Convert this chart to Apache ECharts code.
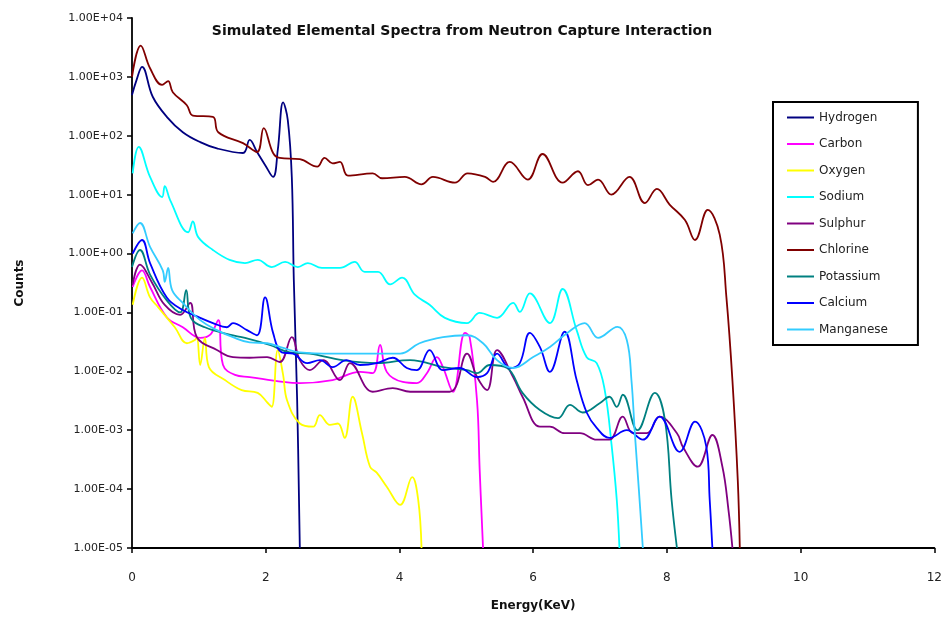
<!DOCTYPE html>
<html>
<head>
<meta charset="utf-8">
<script src="https://cdn.jsdelivr.net/npm/echarts@6/dist/echarts.min.js"></script>
<style>html,body{margin:0;padding:0;background:#fff}#c{width:945px;height:620px}</style>
</head>
<body>
<div id="c"></div>
<script>
const titleText = 'Simulated Elemental Spectra from Neutron Capture Interaction';
const xTicks = [0, 2, 4, 6, 8, 10, 12];
const yTicks = [1e-5, 1e-4, 1e-3, 1e-2, 1e-1, 1, 10, 100, 1000, 10000];
const names = ['Hydrogen','Carbon','Oxygen','Sodium','Sulphur','Chlorine','Potassium','Calcium','Manganese'];
const colors = ['#000080','#FF00FF','#FFFF00','#00FFFF','#800080','#800000','#008080','#0000FF','#33CCFF'];

const hydrogen = [[0,490],[0.07,900],[0.15,1480],[0.31,460],[0.52,210],[0.76,115],[1.02,78],[1.27,61],[1.66,51],[1.76,85],[1.87,53],[1.99,32],[2.11,20],[2.18,57],[2.26,370],[2.33,185],[2.39,20],[2.42,0.36],[2.47,0.0032],[2.51,1e-5]];
const carbon = [[0.01,0.27],[0.15,0.52],[0.27,0.27],[0.52,0.083],[0.76,0.056],[1.02,0.037],[1.17,0.042],[1.29,0.074],[1.36,0.0129],[1.54,0.0087],[1.76,0.008],[2.26,0.0066],[2.51,0.0063],[3.0,0.0071],[3.41,0.0098],[3.6,0.0093],[3.71,0.028],[3.81,0.0098],[4.05,0.0066],[4.26,0.0063],[4.41,0.0093],[4.56,0.0174],[4.65,0.0118],[4.8,0.0045],[4.98,0.045],[5.05,0.038],[5.16,0.0032],[5.2,0.00021],[5.25,1e-5]];
const oxygen = [[0.01,0.135],[0.15,0.39],[0.27,0.18],[0.39,0.123],[0.64,0.056],[0.82,0.03],[0.94,0.034],[0.97,0.038],[1.02,0.0128],[1.09,0.037],[1.15,0.0118],[1.39,0.0071],[1.64,0.0048],[1.88,0.0043],[2.03,0.0029],[2.09,0.0025],[2.18,0.023],[2.26,0.0087],[2.32,0.0032],[2.51,0.0013],[2.71,0.00115],[2.81,0.0018],[2.96,0.00123],[3.08,0.0013],[3.18,0.00074],[3.3,0.0037],[3.44,0.00089],[3.56,0.00024],[3.66,0.00019],[3.81,0.00011],[4.01,0.000054],[4.19,0.00016],[4.28,0.000066],[4.33,1e-5]];
const sodium = [[0.01,23],[0.1,65],[0.27,20],[0.45,9.1],[0.49,14],[0.57,8.1],[0.84,2.3],[0.91,3.5],[0.99,1.9],[1.21,1.15],[1.46,0.78],[1.69,0.69],[1.88,0.78],[2.09,0.59],[2.29,0.72],[2.48,0.59],[2.63,0.69],[2.84,0.57],[3.11,0.57],[3.33,0.72],[3.48,0.49],[3.68,0.49],[3.86,0.3],[4.04,0.39],[4.23,0.2],[4.45,0.135],[4.68,0.081],[5.01,0.066],[5.2,0.098],[5.46,0.081],[5.7,0.145],[5.8,0.102],[5.95,0.21],[6.25,0.066],[6.44,0.25],[6.65,0.05],[6.8,0.0174],[6.95,0.0138],[7.07,0.0048],[7.17,0.0006],[7.25,0.000066],[7.29,1e-5]];
const sulphur = [[0.01,0.3],[0.12,0.65],[0.3,0.32],[0.49,0.134],[0.72,0.091],[0.87,0.145],[0.97,0.038],[1.27,0.023],[1.51,0.0174],[1.76,0.017],[2.02,0.0174],[2.21,0.0144],[2.39,0.038],[2.51,0.0155],[2.66,0.0105],[2.86,0.0155],[3.11,0.0071],[3.26,0.0138],[3.6,0.0045],[3.9,0.0052],[4.16,0.0045],[4.75,0.0045],[5.01,0.02],[5.16,0.008],[5.31,0.0048],[5.46,0.023],[5.7,0.008],[5.84,0.0037],[6.1,0.00115],[6.25,0.00115],[6.47,0.00089],[6.7,0.00089],[6.95,0.00069],[7.14,0.00069],[7.34,0.0017],[7.49,0.00089],[7.7,0.00089],[7.89,0.0017],[8.15,0.00089],[8.24,0.00052],[8.46,0.00024],[8.68,0.00083],[8.83,0.00024],[8.92,0.000045],[8.98,1e-5]];
const chlorine = [[0,1000],[0.13,3400],[0.27,1400],[0.45,730],[0.54,850],[0.61,550],[0.82,330],[0.91,220],[1.21,210],[1.29,115],[1.66,75],[1.87,53],[1.97,135],[2.11,51],[2.21,42],[2.51,40],[2.77,30],[2.88,42],[3.0,34],[3.11,36],[3.23,21],[3.6,23],[3.74,19],[4.08,20],[4.33,15],[4.5,20],[4.83,16],[5.02,23],[5.28,20],[5.4,16.5],[5.65,36],[5.92,18],[6.14,49],[6.44,16],[6.67,25],[6.82,14.5],[6.97,18],[7.17,10],[7.44,20],[7.67,7.2],[7.85,12.5],[8.04,6.8],[8.27,3.7],[8.42,1.7],[8.61,5.5],[8.79,2.1],[8.89,0.18],[8.98,0.007],[9.06,0.00014],[9.09,1e-5]];
const potassium = [[0,0.59],[0.12,1.15],[0.27,0.44],[0.52,0.16],[0.72,0.1],[0.81,0.24],[0.88,0.081],[1.09,0.056],[1.46,0.042],[1.69,0.037],[2.06,0.028],[2.36,0.021],[2.66,0.02],[3.15,0.0155],[3.66,0.0138],[4.16,0.0155],[4.65,0.0118],[5.01,0.0105],[5.16,0.0093],[5.35,0.0128],[5.61,0.0114],[5.84,0.0043],[6.1,0.0022],[6.37,0.0016],[6.55,0.0027],[6.74,0.002],[7.0,0.0029],[7.14,0.0037],[7.25,0.0025],[7.34,0.004],[7.56,0.001],[7.82,0.0043],[7.97,0.0015],[8.07,0.000066],[8.15,1e-5]];
const calcium = [[0.01,1.0],[0.15,1.7],[0.27,0.69],[0.52,0.18],[0.76,0.11],[1.02,0.081],[1.21,0.066],[1.42,0.056],[1.51,0.066],[1.72,0.05],[1.87,0.041],[1.99,0.18],[2.11,0.045],[2.24,0.021],[2.41,0.02],[2.62,0.0138],[2.81,0.0155],[3.0,0.0118],[3.21,0.0155],[3.41,0.0128],[3.66,0.0138],[3.9,0.017],[4.11,0.0114],[4.26,0.0105],[4.45,0.023],[4.65,0.0105],[4.9,0.0114],[5.16,0.008],[5.31,0.0093],[5.46,0.02],[5.65,0.0114],[5.8,0.0138],[5.95,0.045],[6.1,0.026],[6.25,0.0098],[6.47,0.047],[6.65,0.0071],[6.8,0.002],[6.95,0.0011],[7.14,0.00074],[7.4,0.001],[7.64,0.00069],[7.89,0.0017],[8.19,0.00043],[8.42,0.0014],[8.59,0.00052],[8.64,0.000066],[8.68,1e-5]];
const manganese = [[0.01,2.2],[0.12,3.3],[0.27,1.3],[0.46,0.52],[0.49,0.33],[0.54,0.57],[0.6,0.24],[0.76,0.145],[1.02,0.074],[1.27,0.05],[1.51,0.038],[1.76,0.031],[2.02,0.03],[2.26,0.025],[2.51,0.021],[3.0,0.02],[3.66,0.02],[4.01,0.02],[4.3,0.03],[4.65,0.038],[5.01,0.041],[5.25,0.03],[5.46,0.0155],[5.7,0.0114],[6.0,0.0175],[6.25,0.026],[6.5,0.044],[6.77,0.066],[6.97,0.037],[7.26,0.057],[7.4,0.034],[7.47,0.007],[7.52,0.0009],[7.58,0.0001],[7.64,1e-5]];

const seriesData = [hydrogen, carbon, oxygen, sodium, sulphur, chlorine, potassium, calcium, manganese];

function sci(v) {
  const e = Math.round(Math.log10(v));
  const sign = e < 0 ? '-' : '+';
  const a = Math.abs(e);
  return '1.00E' + sign + (a < 10 ? '0' + a : '' + a);
}

const chart = echarts.init(document.getElementById('c'), null, {renderer: 'canvas'});
const font = '"DejaVu Sans", Arial, sans-serif';
chart.setOption({
  animation: false,
  backgroundColor: '#fff',
  title: {
    text: titleText, left: 457, top: 19, textAlign: 'center',
    textStyle: {fontFamily: font, fontSize: 14, fontWeight: 'bold', color: '#111'}
  },
  grid: {left: 132, right: 10, top: 18, bottom: 72, containLabel: false},
  legend: {
    orient: 'vertical', left: 773, top: 102,
    padding: [9, 30, 9, 14],
    borderColor: '#000', borderWidth: 2,
    itemWidth: 27, itemHeight: 2, itemGap: 13.5,
    icon: 'rect',
    textStyle: {fontFamily: font, fontSize: 12, color: '#222', lineHeight: 13},
    data: names
  },
  xAxis: {
    type: 'value', min: 0, max: 12, interval: 2,
    name: 'Energy(KeV)', nameLocation: 'middle', nameGap: 52,
    nameTextStyle: {fontFamily: font, fontSize: 12, fontWeight: 'bold', color: '#111'},
    axisLine: {show: true, lineStyle: {color: '#000', width: 1.8}},
    axisTick: {show: true, length: 5, lineStyle: {color: '#000', width: 1.5}},
    axisLabel: {fontFamily: font, fontSize: 12, color: '#222', margin: 24},
    splitLine: {show: false}
  },
  yAxis: {
    type: 'log', logBase: 10, min: 1e-5, max: 1e4,
    name: 'Counts', nameLocation: 'middle', nameGap: 106, nameRotate: 90,
    nameTextStyle: {fontFamily: font, fontSize: 12, fontWeight: 'bold', color: '#111'},
    axisLine: {show: true, lineStyle: {color: '#000', width: 1.8}},
    axisTick: {show: true, length: 5, lineStyle: {color: '#000', width: 1.5}},
    axisLabel: {fontFamily: font, fontSize: 11, color: '#222', margin: 9, formatter: v => sci(v)},
    splitLine: {show: false}
  },
  series: names.map((n, i) => ({
    name: n, type: 'line', data: seriesData[i],
    showSymbol: false, symbol: 'none', smooth: 0.4,
    clip: true,
    lineStyle: {color: colors[i], width: 1.8},
    itemStyle: {color: colors[i]}
  }))
});
</script>
</body>
</html>
